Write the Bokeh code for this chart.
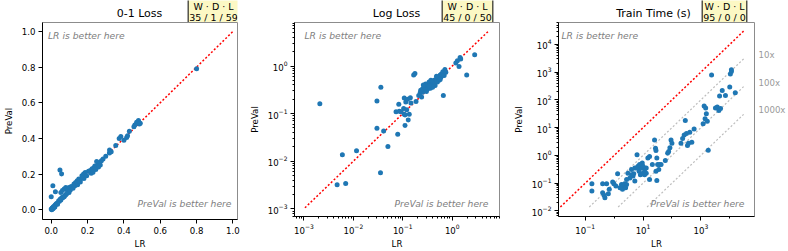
from bokeh.plotting import figure
from bokeh.layouts import row, column
from bokeh.models import (Label, FixedTicker, PrintfTickFormatter, LogTickFormatter, Range1d,
                          LogAxis)
from bokeh.embed import file_html
from bokeh.resources import INLINE

FONT = "DejaVu Sans"

# ---------------- data ----------------
zero_one_lr = [0.80, 0.48, 0.47, 0.485, 0.49, 0.46, 0.455, 0.43, 0.42, 0.415, 0.40, 0.383, 0.374,
               0.355, 0.33, 0.321, 0.32, 0.30, 0.285, 0.276, 0.267, 0.258, 0.27, 0.25, 0.24, 0.26,
               0.235, 0.225, 0.245, 0.215, 0.22, 0.205, 0.23, 0.187, 0.178, 0.169, 0.18, 0.16,
               0.152, 0.143, 0.134, 0.125, 0.14, 0.11, 0.098, 0.089, 0.08, 0.071, 0.062, 0.053,
               0.09, 0.048, 0.057, 0.009, 0.023, 0.0, 0.098, 0.08, 0.071, 0.062, 0.053, 0.045,
               0.036, 0.027, 0.018, 0.009, 0.0, 0.005, 0.012, 0.023, 0.041, 0.059, 0.003, 0.01,
               0.015, 0.02, 0.03, 0.035, 0.05, 0.065, 0.075, 0.085, 0.105, 0.12, 0.13, 0.145,
               0.16, 0.175, 0.195]
zero_one_preval = [0.79, 0.50, 0.49, 0.48, 0.485, 0.475, 0.465, 0.44, 0.415, 0.405, 0.39, 0.41, 0.40,
                   0.36, 0.325, 0.335, 0.318, 0.30, 0.285, 0.275, 0.265, 0.256, 0.25, 0.27, 0.245,
                   0.24, 0.235, 0.23, 0.225, 0.22, 0.205, 0.215, 0.21, 0.209, 0.20, 0.19, 0.175,
                   0.17, 0.172, 0.163, 0.153, 0.144, 0.15, 0.13, 0.125, 0.116, 0.125, 0.116, 0.107,
                   0.097, 0.105, 0.222, 0.20, 0.135, 0.10, 0.073, 0.097, 0.084, 0.073, 0.065, 0.054,
                   0.047, 0.039, 0.032, 0.022, 0.013, 0.004, 0.009, 0.017, 0.028, 0.05, 0.069, 0.0,
                   0.005, 0.012, 0.015, 0.035, 0.03, 0.06, 0.07, 0.08, 0.09, 0.11, 0.12, 0.135,
                   0.14, 0.155, 0.18, 0.19]

logloss_lr = [0.0021, 0.0047, 0.0070, 0.0060, 0.0116, 0.0354, 0.030, 0.041, 0.050, 0.030, 0.036,
              0.079, 0.111, 0.129, 0.073, 0.085, 0.107, 0.135, 0.104, 0.111, 0.083, 0.115, 0.107,
              0.125, 0.142, 0.185, 0.146, 0.166, 0.176, 0.225, 0.24, 0.25, 0.27, 0.29, 0.316,
              0.34, 0.37, 0.40, 0.43, 0.465, 0.50, 0.54, 0.59, 0.63, 0.685, 0.71, 0.36, 0.42,
              0.445, 0.49, 0.52, 0.57, 0.605, 0.645, 0.31, 0.28, 0.25, 0.66, 1.18, 1.27, 1.37,
              1.48, 1.44, 1.96, 2.84, 0.38, 0.33, 0.45, 0.40, 0.50, 0.54, 0.30, 0.23, 0.21,
              0.685, 0.57, 0.74, 0.34, 0.48, 0.26, 0.37, 0.092, 0.12]
logloss_preval = [0.162, 0.0032, 0.0034, 0.0137, 0.0166, 0.0057, 0.049, 0.043, 0.0204, 0.184, 0.36,
                  0.037, 0.056, 0.073, 0.109, 0.112, 0.097, 0.097, 0.128, 0.093, 0.158, 0.176,
                  0.213, 0.20, 0.216, 0.18, 0.167, 0.65, 0.70, 0.275, 0.223, 0.33, 0.36, 0.42,
                  0.39, 0.46, 0.40, 0.47, 0.50, 0.52, 0.54, 0.555, 0.58, 0.63, 0.715, 0.84, 0.34,
                  0.42, 0.457, 0.50, 0.58, 0.65, 0.68, 0.76, 0.32, 0.31, 0.28, 0.24, 1.15, 1.29,
                  0.98, 1.40, 1.51, 0.65, 1.72, 0.38, 0.34, 0.39, 0.36, 0.46, 0.50, 0.29, 0.31,
                  0.24, 0.63, 0.52, 0.74, 0.38, 0.61, 0.40, 0.50, 0.11, 0.12]

time_lr = [0.17, 0.17, 0.40, 0.40, 0.45, 0.48, 0.63, 0.68, 0.89, 0.98, 1.15, 1.32, 1.8, 2.05, 2.3,
           1.95, 2.7, 2.5, 3.0, 4.0, 4.5, 4.8, 5.2, 6.2, 6.7, 7.3, 8.1, 8.7, 10, 9.4, 11.3, 12.9,
           14.7, 16.8, 16.8, 25, 27, 28, 30, 32, 35, 30, 37, 42, 59, 71, 77, 85, 93, 100, 205,
           234, 265, 290, 318, 345, 374, 415, 487, 585, 1200, 1300, 1400, 1470, 1550, 1670, 1800,
           2350, 3200, 3700, 4200, 4800, 4450, 5500, 7100, 10000, 10500, 11400, 11400, 15500,
           3.5, 10, 12.9, 7.6, 4.0, 21, 1.6, 0.55, 2.7, 6.0, 11.3, 28, 5.2]
time_preval = [0.095, 0.052, 0.095, 0.045, 0.037, 0.030, 0.042, 0.060, 0.11, 0.095, 0.079, 0.22,
               0.089, 0.079, 0.095, 0.06, 0.089, 0.069, 0.23, 0.31, 0.18, 0.22, 0.35, 1.05, 0.41,
               0.27, 0.20, 0.35, 0.23, 0.53, 0.31, 0.35, 0.80, 0.92, 0.135, 3.6, 1.8, 1.5, 0.80,
               0.47, 0.31, 0.125, 0.47, 0.47, 0.65, 1.2, 1.4, 1.9, 3.6, 2.75, 2.75, 4.1, 5.5, 18,
               6.2, 2.3, 2.75, 6.8, 3.0, 8.9, 14, 60, 21, 51, 32, 17, 1.55, 790, 51, 56, 42, 49,
               138, 220, 145, 290, 860, 1050, 1230, 180, 0.155, 0.41, 0.23, 0.47, 0.2, 0.47,
               0.069, 0.095, 0.135, 0.35, 0.2, 0.27, 0.12]

titles = ["0-1 Loss", "Log Loss", "Train Time (s)"]
wdl = ["35 / 1 / 59", "45 / 0 / 50", "95 / 0 / 0"]
diag_bounds = [(0.0, 1.0), (0.00105, 5.5), (0.0138, 30200.0)]
multiples = [10, 100, 1000]
multiple_labels = ["10x", "100x", "1000x"]
multiple_label_y = [4200.0, 420.0, 42.0]

BLUE = "#1f77b4"
HEAD_H = 22
MAIN_H = 251 - HEAD_H


def style(p):
    p.grid.visible = False
    p.outline_line_color = "#8c8c8c"
    p.outline_line_width = 1
    for ax in p.axis:
        ax.axis_line_color = "black"
        ax.major_tick_line_color = "black"
        ax.minor_tick_line_color = "black"
        ax.major_tick_in = 0
        ax.major_tick_out = 4
        ax.minor_tick_in = 0
        ax.minor_tick_out = 2
        ax.major_label_text_font = FONT
        ax.major_label_text_font_size = "8.6px"
        ax.major_label_text_color = "black"
        ax.major_label_standoff = 3
        ax.axis_label_text_font = FONT
        ax.axis_label_text_font_size = "8.6px"
        ax.axis_label_text_font_style = "normal"
        ax.axis_label_text_color = "black"
        ax.axis_label_standoff = 5
    p.xaxis.axis_label = "LR"
    p.xaxis.axis_label_standoff = 2
    p.yaxis.axis_label = "PreVal"


def add_inner_texts(p, lr_x, pv_x):
    p.add_layout(Label(x=lr_x, y=35 - HEAD_H, x_units="canvas", y_units="canvas",
                       text="LR is better here", text_align="left", text_baseline="middle",
                       text_font=FONT, text_font_size="9.2px", text_font_style="italic",
                       text_color="#808080"))
    p.add_layout(Label(x=pv_x, y=203 - HEAD_H, x_units="canvas", y_units="canvas",
                       text="PreVal is better here", text_align="right", text_baseline="middle",
                       text_font=FONT, text_font_size="9.2px", text_font_style="italic",
                       text_color="#808080"))


def header(width, title, title_cx, wdl_text, wdl_cx):
    h = figure(width=width, height=HEAD_H, x_range=Range1d(0, width), y_range=Range1d(HEAD_H, 0),
               output_backend="svg", toolbar_location=None, min_border=0,
               x_axis_location=None, y_axis_location=None)
    h.outline_line_color = None
    h.grid.visible = False
    h.add_layout(Label(x=title_cx, y=13, x_units="canvas", y_units="canvas", text=title,
                       text_align="center", text_baseline="middle", text_font=FONT,
                       text_font_size="11px", text_color="black"))
    h.add_layout(Label(x=wdl_cx, y=11.5, x_units="canvas", y_units="canvas",
                       text="W · D · L\n" + wdl_text, text_align="center",
                       text_baseline="middle", text_font=FONT, text_font_size="9.5px",
                       text_color="black", text_line_height=1.0,
                       background_fill_color="#fcf8c4", border_line_color="black",
                       border_line_width=1, padding=(1, 6), border_radius=3))
    return h


def log_minor(lo_e, hi_e):
    return [m * 10.0 ** e for e in range(lo_e, hi_e) for m in range(2, 10)]


common = dict(height=MAIN_H, output_backend="svg", toolbar_location=None,
              min_border_top=0, min_border_bottom=32)

# ---------------- panel 1 ----------------
W1 = 246
p1 = figure(width=W1, x_range=Range1d(-0.048, 1.025), y_range=Range1d(-0.055, 1.05),
            min_border_left=37, min_border_right=9, **common)
style(p1)
lo, hi = diag_bounds[0]
p1.line([lo, hi], [lo, hi], line_color="red", line_width=1.5, line_dash="2 2")
p1.scatter(zero_one_lr, zero_one_preval, size=5, color=BLUE, line_color=None)
p1.xaxis.ticker = FixedTicker(ticks=[0, 0.2, 0.4, 0.6, 0.8, 1.0])
p1.yaxis.ticker = FixedTicker(ticks=[0, 0.2, 0.4, 0.6, 0.8, 1.0])
p1.xaxis.formatter = PrintfTickFormatter(format="%.1f")
p1.yaxis.formatter = PrintfTickFormatter(format="%.1f")
add_inner_texts(p1, 47.5, 231)
h1 = header(W1, titles[0], 139, wdl[0], 213)

# ---------------- panel 2 ----------------
W2 = 260
p2 = figure(width=W2, x_axis_type="log", y_axis_type="log",
            x_range=Range1d(6.46e-4, 9.02), y_range=Range1d(6.9e-4, 8.2),
            min_border_left=47, min_border_right=7, **common)
style(p2)
lo, hi = diag_bounds[1]
p2.line([lo, hi], [lo, hi], line_color="red", line_width=1.5, line_dash="2 2")
p2.scatter(logloss_lr, logloss_preval, size=5, color=BLUE, line_color=None)
p2.xaxis.ticker = FixedTicker(ticks=[1e-3, 1e-2, 1e-1, 1.0], minor_ticks=log_minor(-4, 1))
p2.yaxis.ticker = FixedTicker(ticks=[1e-3, 1e-2, 1e-1, 1.0], minor_ticks=log_minor(-4, 1))
p2.xaxis.formatter = LogTickFormatter()
p2.yaxis.formatter = LogTickFormatter()
add_inner_texts(p2, 58, 242)
h2 = header(W2, titles[1], 150, wdl[1], 221)

# ---------------- panel 3 ----------------
W3 = 282
p3 = figure(width=W3, x_axis_type="log", y_axis_type="log",
            x_range=Range1d(0.0119, 71800), y_range=Range1d(0.0063, 61700),
            min_border_left=52, min_border_right=32, **common)
lo, hi = diag_bounds[2]
for k in multiples:
    p3.line([lo * k, hi], [lo, hi / k], line_color="#bdbdbd", line_width=1.2, line_dash="2 2")
p3.line([lo, hi], [lo, hi], line_color="red", line_width=1.5, line_dash="2 2")
p3.scatter(time_lr, time_preval, size=5, color=BLUE, line_color=None)
mult_axis = LogAxis(ticker=FixedTicker(ticks=multiple_label_y, minor_ticks=[]),
                    major_label_overrides=dict(zip(multiple_label_y, multiple_labels)))
p3.add_layout(mult_axis, "right")
style(p3)
p3.xaxis.ticker = FixedTicker(ticks=[1e-1, 1e1, 1e3], minor_ticks=[1e-2, 1.0, 1e2, 1e4])
p3.yaxis[0].ticker = FixedTicker(ticks=[1e-2, 1e-1, 1.0, 1e1, 1e2, 1e3, 1e4],
                                 minor_ticks=log_minor(-3, 5))
p3.xaxis.formatter = LogTickFormatter()
p3.yaxis[0].formatter = LogTickFormatter()
mult_axis.axis_label = None
mult_axis.axis_line_color = None
mult_axis.major_tick_line_color = None
mult_axis.minor_tick_line_color = None
mult_axis.major_tick_out = 0
mult_axis.major_label_standoff = 4
mult_axis.major_label_text_color = "#999999"
add_inner_texts(p3, 55, 238)
h3 = header(W3, titles[2], 147, wdl[2], 218)

layout = row(column(h1, p1), column(h2, p2), column(h3, p3))

open("out.html", "w").write(file_html(layout, INLINE))
